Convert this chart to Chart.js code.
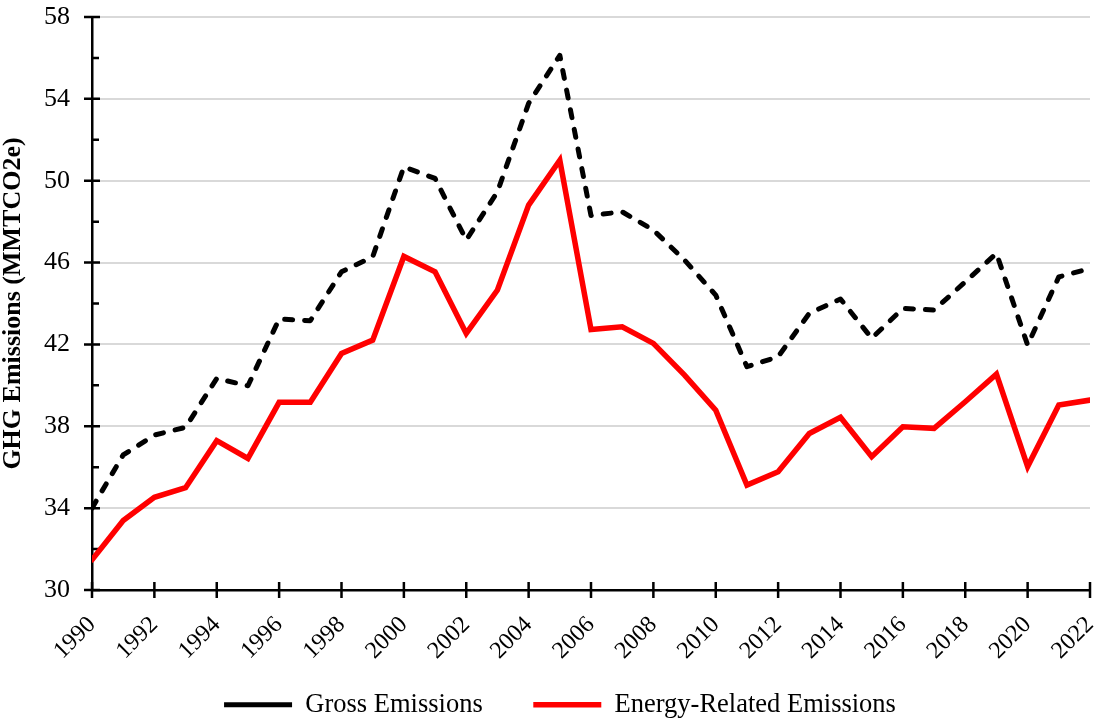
<!DOCTYPE html>
<html>
<head>
<meta charset="utf-8">
<script src="https://cdn.jsdelivr.net/npm/chart.js@4.4.1/dist/chart.umd.min.js"></script>
<style>
  html, body { margin: 0; padding: 0; background: #fff; }
  #wrap { width: 1099px; height: 721px; }
</style>
</head>
<body>
<div id="wrap"><canvas id="c" width="1099" height="721"></canvas></div>
<script>
const years = [1990,1991,1992,1993,1994,1995,1996,1997,1998,1999,2000,2001,2002,2003,2004,2005,2006,2007,2008,2009,2010,2011,2012,2013,2014,2015,2016,2017,2018,2019,2020,2021,2022];
const grossEmissions = [34.0,36.6,37.57,37.95,40.34,39.98,43.24,43.16,45.55,46.28,50.68,50.11,47.1,49.46,53.78,56.13,48.3,48.48,47.59,46.12,44.41,40.91,41.4,43.52,44.22,42.3,43.76,43.68,45.06,46.45,41.97,45.3,45.71];
const energyEmissions = [31.47,33.4,34.53,35.0,37.3,36.43,39.17,39.17,41.56,42.21,46.3,45.55,42.54,44.66,48.81,51.0,42.73,42.86,42.05,40.5,38.79,35.13,35.78,37.65,38.44,36.51,37.98,37.9,39.2,40.55,36.03,39.04,39.28];
const seriesNames = ['Gross Emissions', 'Energy-Related Emissions'];
const yAxisTitle = 'GHG Emissions (MMTCO2e)';
const yMin = 30, yMax = 58, yStep = 4, yMinorStep = 2;
const xMin = 1990, xMax = 2022, xStep = 2;

Chart.defaults.font.family = "'Liberation Serif', 'Times New Roman', serif";
Chart.defaults.color = '#000';

const tickMarks = {
  id: 'tickMarks',
  beforeDatasetsDraw(chart) {
    const ctx = chart.ctx;
    const xs = chart.scales.x, ys = chart.scales.y;
    const area = chart.chartArea;
    ctx.save();
    ctx.strokeStyle = '#000';
    ctx.lineWidth = 2.5;
    ctx.beginPath();
    for (let v = yMin; v <= yMax; v += yMinorStep) {
      const p = ys.getPixelForValue(v);
      if ((v - yMin) % yStep === 0) {
        ctx.moveTo(area.left - 8, p); ctx.lineTo(area.left + 8, p);
      } else {
        ctx.moveTo(area.left, p); ctx.lineTo(area.left + 7, p);
      }
    }
    for (let v = xMin; v <= xMax; v += xStep) {
      const p = xs.getPixelForValue(v);
      ctx.moveTo(p, area.bottom - 8); ctx.lineTo(p, area.bottom + 8);
    }
    ctx.stroke();
    ctx.restore();
  }
};

new Chart(document.getElementById('c'), {
  type: 'line',
  data: {
    datasets: [
      {
        label: seriesNames[0],
        data: years.map((y, i) => ({x: y, y: grossEmissions[i]})),
        borderColor: '#000',
        backgroundColor: '#000',
        borderWidth: 5,
        borderDash: [8, 12],
        borderCapStyle: 'round',
        borderJoinStyle: 'round',
        pointRadius: 0,
        tension: 0,
        fill: false
      },
      {
        label: seriesNames[1],
        data: years.map((y, i) => ({x: y, y: energyEmissions[i]})),
        borderColor: '#ff0000',
        backgroundColor: '#ff0000',
        borderWidth: 5.5,
        borderCapStyle: 'round',
        borderJoinStyle: 'miter',
        pointRadius: 0,
        tension: 0,
        fill: false
      }
    ]
  },
  options: {
    responsive: false,
    animation: false,
    devicePixelRatio: 1,
    layout: { padding: { top: 17, right: -21, left: 0, bottom: -7 } },
    plugins: {
      legend: {
        position: 'bottom',
        labels: {
          usePointStyle: true,
          pointStyle: 'line',
          pointStyleWidth: 68,
          padding: 32,
          font: { size: 26.5 },
          color: '#000',
          generateLabels(chart) {
            const items = Chart.defaults.plugins.legend.labels.generateLabels(chart);
            items.forEach((it, i) => { if (i < items.length - 1) it.text = it.text + '\u2002\u2009'; });
            return items;
          }
        }
      },
      tooltip: { enabled: false }
    },
    scales: {
      x: {
        type: 'linear',
        min: xMin,
        max: xMax,
        afterFit(scale) { scale.height = 69.5; scale.paddingRight = 9; scale.paddingLeft = 0; },
        grid: { display: false, drawTicks: true, tickLength: 8, tickColor: 'rgba(0,0,0,0)' },
        border: { display: true, color: '#000', width: 2.5 },
        ticks: {
          stepSize: xStep,
          minRotation: 45,
          maxRotation: 45,
          padding: 13,
          font: { size: 24 },
          color: '#000',
          callback: (v) => String(v)
        }
      },
      y: {
        min: yMin,
        max: yMax,
        afterFit(scale) { scale.width = 92; },
        grid: { color: '#d9d9d9', lineWidth: 2, drawTicks: true, tickLength: 22, tickColor: 'rgba(0,0,0,0)' },
        border: { display: true, color: '#000', width: 2.5 },
        ticks: {
          stepSize: yStep,
          padding: 0,
          font: { size: 26 },
          color: '#000',
          callback: (v) => String(v)
        },
        title: {
          display: true,
          text: yAxisTitle,
          font: { size: 26, weight: 'bold', lineHeight: 1.0 },
          padding: { top: 0, bottom: 0 },
          color: '#000'
        }
      }
    }
  },
  plugins: [tickMarks]
});
</script>
</body>
</html>
